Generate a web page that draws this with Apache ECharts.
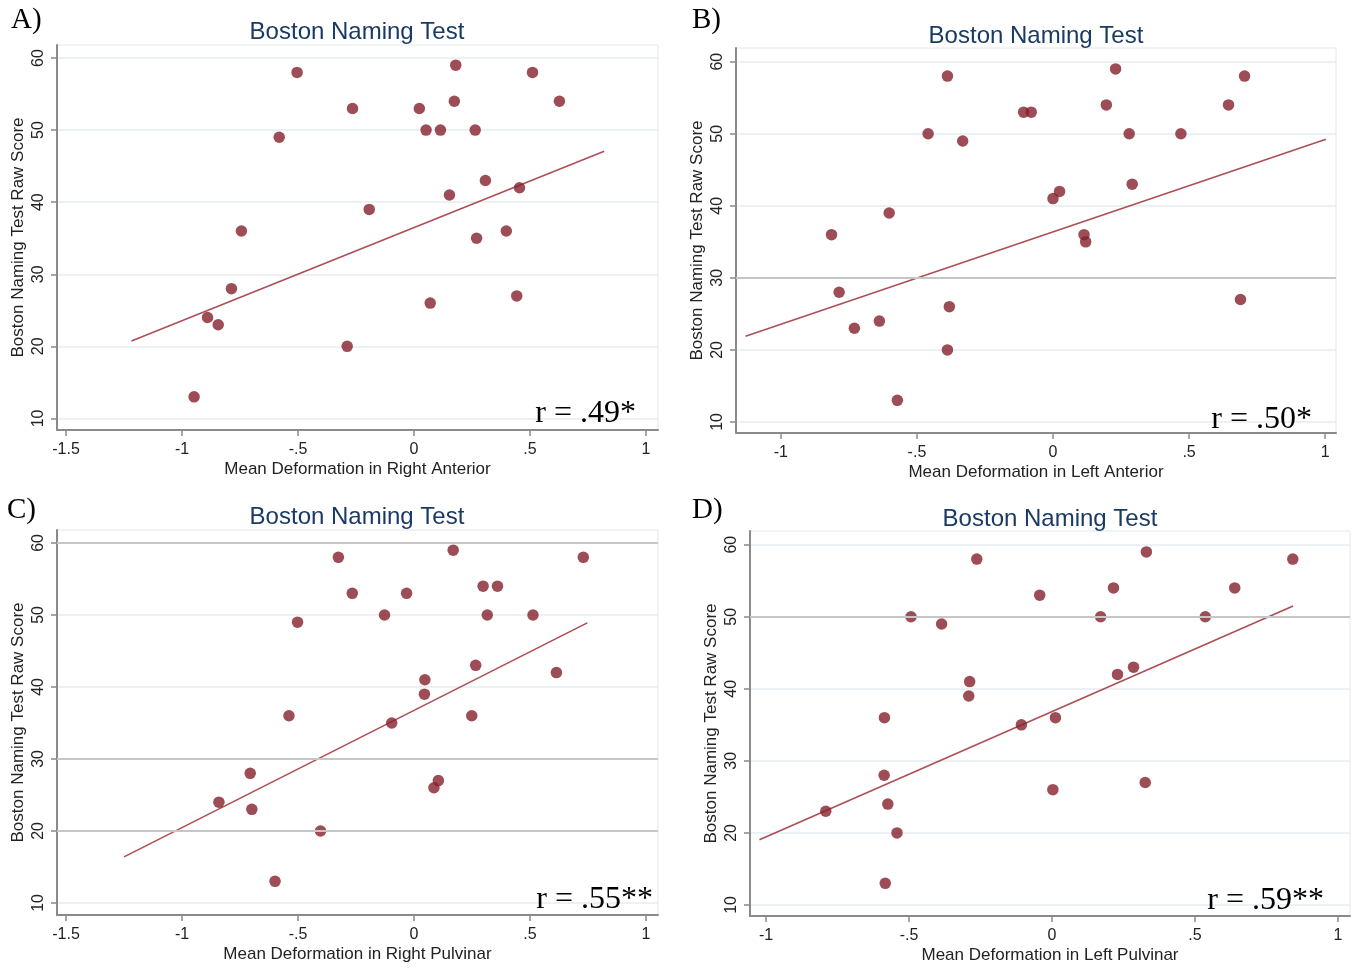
<!DOCTYPE html>
<html><head><meta charset="utf-8">
<script src="https://cdn.jsdelivr.net/npm/echarts@6/dist/echarts.min.js"></script>
<style>html,body{margin:0;padding:0;background:#fff}#c{width:1358px;height:968px}</style>
</head><body><div id="c"></div>
<script>
// ---------- DATA ----------
const chartTitle = 'Boston Naming Test';
const yName = 'Boston Naming Test Raw Score';
const panelLetters = ['A)', 'B)', 'C)', 'D)'];
const xNames = ['Mean Deformation in Right Anterior', 'Mean Deformation in Left Anterior',
                'Mean Deformation in Right Pulvinar', 'Mean Deformation in Left Pulvinar'];
const rLabels = ['r = .49*', 'r = .50*', 'r = .55**', 'r = .59**'];

const xTicksWide = [-1.5, -1, -0.5, 0, 0.5, 1];
const xTicksNarrow = [-1, -0.5, 0, 0.5, 1];
const yTicks = [10, 20, 30, 40, 50, 60];

const xA = [-0.948,-0.890,-0.844,-0.787,-0.744,-0.581,-0.504,-0.288,-0.265,-0.193,0.023,0.052,0.070,0.114,0.153,0.174,0.180,0.264,0.270,0.308,0.398,0.443,0.455,0.511,0.627];
const yA = [13,24,23,28,36,49,58,20,53,39,53,50,26,50,41,54,59,50,35,43,36,27,42,58,54];
const fitAx = [-1.218, 0.820];
const fitAy = [20.75, 47.05];

const xB = [-0.814,-0.786,-0.730,-0.638,-0.602,-0.572,-0.459,-0.388,-0.388,-0.381,-0.332,-0.108,-0.080,0.0,0.024,0.114,0.120,0.196,0.230,0.280,0.291,0.470,0.645,0.689,0.704];
const yB = [36,28,23,24,39,13,50,58,20,26,49,53,53,41,42,36,35,54,59,50,43,50,54,27,58];
const fitBx = [-1.130, 1.003];
const fitBy = [21.9, 49.25];

const xC = [-0.841,-0.706,-0.699,-0.599,-0.539,-0.502,-0.403,-0.326,-0.266,-0.127,-0.096,-0.032,0.045,0.047,0.086,0.105,0.169,0.249,0.266,0.298,0.316,0.360,0.513,0.614,0.730];
const yC = [24,28,23,13,36,49,20,58,53,50,35,53,39,41,26,27,59,36,43,54,50,54,50,42,58];
const fitCx = [-1.250, 0.747];
const fitCy = [16.4, 48.9];

const xD = [-0.791,-0.586,-0.587,-0.574,-0.583,-0.542,-0.493,-0.386,-0.291,-0.288,-0.263,-0.107,-0.043,0.003,0.012,0.170,0.215,0.229,0.285,0.326,0.330,0.536,0.639,0.842];
const yD = [23,36,28,24,13,20,50,49,39,41,58,35,53,26,36,50,54,42,43,27,59,50,54,58];
const fitDx = [-1.023, 0.843];
const fitDy = [19.05, 51.5];

// gridlines that appear darker in the original
const darkA = [];
const darkB = [30];
const darkC = [60, 30, 20];
const darkD = [50];

// ---------- LAYOUT ----------
const panels = [
  {xs:xA, ys:yA, fx:fitAx, fy:fitAy, dark:darkA, xt:xTicksWide,
   grid:{left:57, top:45, width:601, height:385}, xr:[-1.539,1.052], yr:[8.4,61.8],
   titleX:352, titleY:15, letter:[11,6], r:[636,430]},
  {xs:xB, ys:yB, fx:fitBx, fy:fitBy, dark:darkB, xt:xTicksNarrow,
   grid:{left:736, top:48, width:600, height:385}, xr:[-1.165,1.040], yr:[8.47,61.9],
   titleX:1031, titleY:19, letter:[692,6], r:[1312,436]},
  {xs:xC, ys:yC, fx:fitCx, fy:fitCy, dark:darkC, xt:xTicksWide,
   grid:{left:57, top:530, width:601, height:385}, xr:[-1.539,1.052], yr:[8.33,61.8],
   titleX:352, titleY:500, letter:[7,496], r:[653,916]},
  {xs:xD, ys:yD, fx:fitDx, fy:fitDy, dark:darkD, xt:xTicksNarrow,
   grid:{left:750, top:531, width:600, height:385}, xr:[-1.056,1.042], yr:[8.47,61.9],
   titleX:1045, titleY:502, letter:[692,496], r:[1324,917]}
];

const fmt = v => String(v).replace('0.', '.');
const sans = 'Liberation Sans, Arial, sans-serif';
const serif = 'Liberation Serif, Times New Roman, serif';
const axisCol = '#8a8a8a';

const option = {animation:false, backgroundColor:'#fff', title:[], grid:[], xAxis:[], yAxis:[], series:[], graphic:[]};

panels.forEach((p, i) => {
  option.title.push({text:chartTitle, left:p.titleX, top:p.titleY, textAlign:'center',
    textStyle:{fontFamily:sans, fontSize:24, fontWeight:'normal', color:'#1a3a66'}});
  option.grid.push(Object.assign({show:true, borderColor:'#e2e8ec', borderWidth:1, backgroundColor:'#fff'}, p.grid));
  option.xAxis.push({type:'value', gridIndex:i, min:p.xr[0], max:p.xr[1],
    name:xNames[i], nameLocation:'middle', nameGap:31,
    nameTextStyle:{fontFamily:sans, fontSize:17, color:'#222'},
    axisLine:{show:true, onZero:false, lineStyle:{color:axisCol, width:2}},
    axisTick:{show:true, length:6, customValues:p.xt, lineStyle:{color:axisCol, width:1.5}},
    axisLabel:{customValues:p.xt, formatter:fmt, fontFamily:sans, fontSize:16, color:'#222', margin:12},
    splitLine:{show:false}});
  option.yAxis.push({type:'value', gridIndex:i, min:p.yr[0], max:p.yr[1],
    name:yName, nameLocation:'middle', nameGap:30, nameRotate:90,
    nameTextStyle:{fontFamily:sans, fontSize:17, color:'#222'},
    axisLine:{show:true, onZero:false, lineStyle:{color:axisCol, width:2}},
    axisTick:{show:true, length:6, customValues:yTicks, lineStyle:{color:axisCol, width:1.5}},
    axisLabel:{customValues:yTicks, rotate:90, fontFamily:sans, fontSize:16, color:'#222', margin:10},
    splitLine:{show:true, lineStyle:{color:'#e4edf0', width:1.5}}});
  option.series.push({type:'line', xAxisIndex:i, yAxisIndex:i, z:2,
    data:p.fx.map((x, k) => [x, p.fy[k]]), showSymbol:false, symbol:'none',
    lineStyle:{color:'#ad4e55', width:1.6},
    markLine:{silent:true, symbol:'none', label:{show:false},
      lineStyle:{color:'#c6c6c6', width:2, type:'solid'},
      data:p.dark.map(v => ({yAxis:v}))}});
  option.series.push({type:'scatter', xAxisIndex:i, yAxisIndex:i, z:3,
    data:p.xs.map((x, k) => [x, p.ys[k]]), symbol:'circle', symbolSize:11.5,
    itemStyle:{color:'#85202c'}});
  option.graphic.push({type:'text', left:p.letter[0], top:p.letter[1], z:100,
    style:{text:panelLetters[i], font:'29px ' + serif, fill:'#000'}});
  option.graphic.push({type:'text', x:p.r[0], y:p.r[1], z:100,
    style:{text:rLabels[i], font:'32px ' + serif, fill:'#000', textAlign:'right', textVerticalAlign:'bottom'}});
});

const chart = echarts.init(document.getElementById('c'), null, {renderer:'canvas'});
chart.setOption(option);
</script>
</body></html>
